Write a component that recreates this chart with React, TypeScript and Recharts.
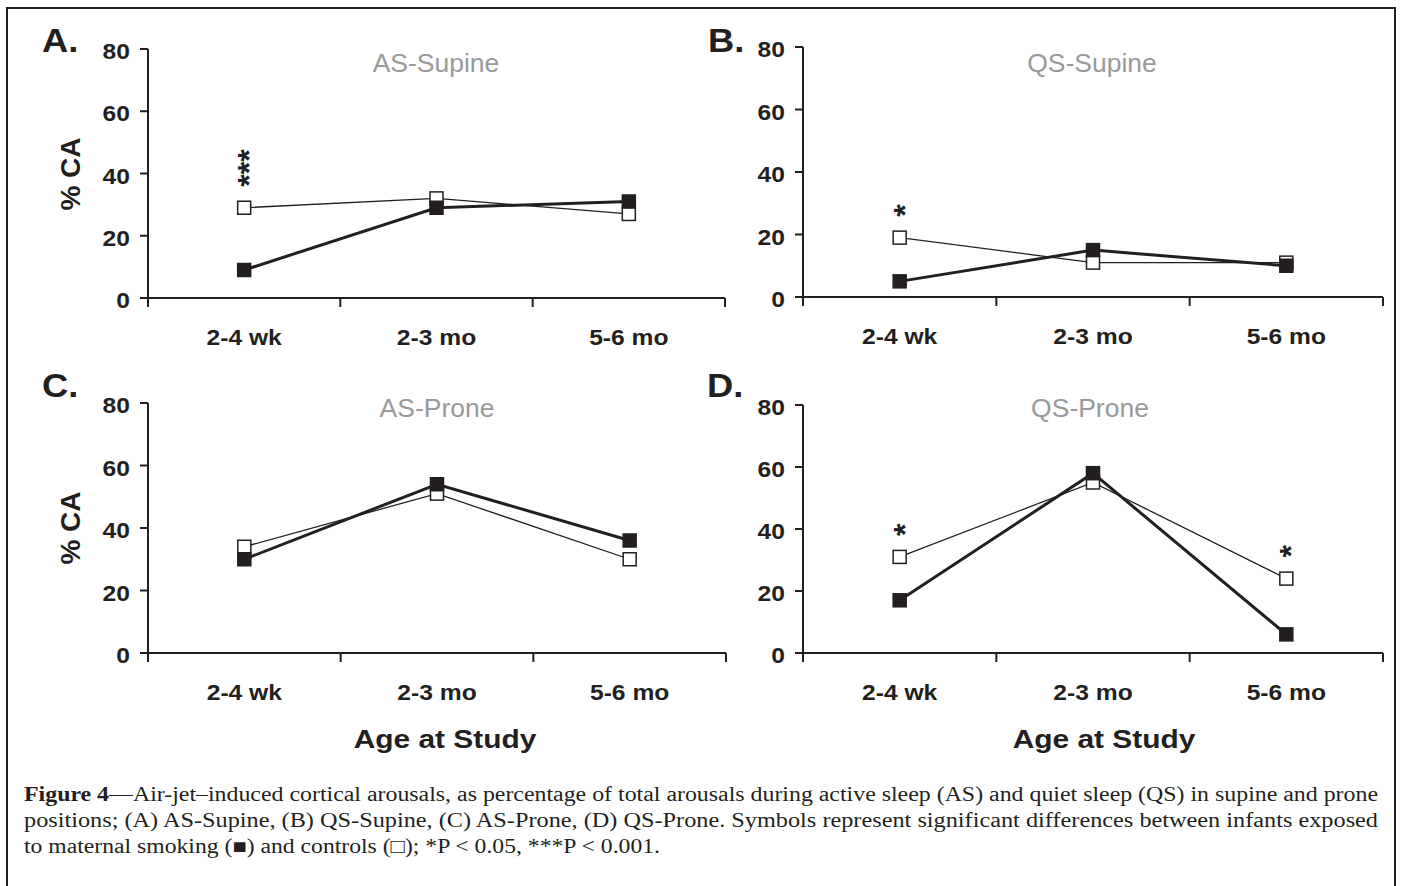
import React from 'react';
import { LineChart, Line, XAxis, YAxis, LabelList } from 'recharts';

const INK = '#231f20';
const SANS = '"Liberation Sans", Arial, sans-serif';
const SERIF = '"Liberation Serif", "Times New Roman", serif';

const AGES = ['2-4 wk', '2-3 mo', '5-6 mo'];
const Y_TICKS = [0, 20, 40, 60, 80];
// integer ticks are the band edges, half ticks carry the age labels
const X_TICKS = [0, 0.5, 1, 1.5, 2, 2.5, 3];

// % CA, controls (open squares) and infants exposed to maternal smoking (filled)
const AS_SUPINE_CTRL = [29, 32, 27];
const AS_SUPINE_SMOKE = [9, 29, 31];
const AS_SUPINE_SIG = ['***', '', ''];

const QS_SUPINE_CTRL = [19, 11, 11];
const QS_SUPINE_SMOKE = [5, 15, 10];
const QS_SUPINE_SIG = ['*', '', ''];

const AS_PRONE_CTRL = [34, 51, 30];
const AS_PRONE_SMOKE = [30, 54, 36];
const AS_PRONE_SIG = ['', '', ''];

const QS_PRONE_CTRL = [31, 55, 24];
const QS_PRONE_SMOKE = [17, 58, 6];
const QS_PRONE_SIG = ['*', '', '*'];

const rowsOf = (ctrl: number[], smoke: number[], sig: string[]) =>
  AGES.map((age, i) => ({ x: i + 0.5, age, ctrl: ctrl[i], smoke: smoke[i], sig: sig[i] }));

const XTick = (p: any) => {
  const v = p.payload.value;
  if (Number.isInteger(v)) {
    return <line x1={p.x} x2={p.x} y1={p.y} y2={p.y + 9} stroke={INK} strokeWidth={2} />;
  }
  return (
    <text transform={`translate(${p.x} ${p.y + 47}) scale(1.12 1)`} textAnchor="middle"
      fontFamily={SANS} fontWeight="bold" fontSize={22} fill={INK}>
      {AGES[Math.floor(v)]}
    </text>
  );
};

const YTick = (p: any) => (
  <text transform={`translate(${p.x} ${p.y + 10}) scale(1.12 1)`} textAnchor="end"
    fontFamily={SANS} fontWeight="bold" fontSize={22} fill={INK}>
    {p.payload.value}
  </text>
);

const square = (fill: string) => (p: any) => (
  <rect key={`sq${p.index}`} x={p.cx - 6.5} y={p.cy - 6.5} width={13} height={13}
    fill={fill} stroke={INK} strokeWidth={1.5} />
);

// significance stars, stacked upward above the control point
const Stars = (p: any) => {
  const s = String(p.value ?? '');
  if (!s) return null;
  const x = (p.x ?? p.viewBox?.x) + 16;
  const y = (p.y ?? p.viewBox?.y) - 21;
  return (
    <text transform={`translate(${x} ${y}) rotate(-90)`} textAnchor="start"
      fontFamily={SANS} fontWeight="bold" fontSize={32} fill={INK}>{s}</text>
  );
};

function Panel({ left, top, w, h, rows }: { left: number; top: number; w: number; h: number; rows: any[] }) {
  const padTop = 40;
  const axisW = 148;
  return (
    <div style={{ position: 'absolute', left: left - axisW, top: top - padTop }}>
      <LineChart width={axisW + w + 15} height={padTop + h + 60} data={rows}
        margin={{ top: padTop, right: 15, bottom: 0, left: 0 }}>
        <XAxis dataKey="x" type="number" domain={[0, 3]} ticks={X_TICKS} interval={0} height={60}
          tickSize={0} tickMargin={0} tickLine={false}
          axisLine={{ stroke: INK, strokeWidth: 2 }} tick={XTick} />
        <YAxis type="number" domain={[0, 80]} ticks={Y_TICKS} interval={0} width={axisW}
          tickSize={8} tickMargin={10} tickLine={{ stroke: INK, strokeWidth: 2 }}
          axisLine={{ stroke: INK, strokeWidth: 2 }} tick={YTick} />
        <Line type="linear" dataKey="ctrl" stroke={INK} strokeWidth={1.3} dot={square('#fff')}
          activeDot={false} isAnimationActive={false}>
          <LabelList dataKey="sig" content={Stars} />
        </Line>
        <Line type="linear" dataKey="smoke" stroke={INK} strokeWidth={3} dot={square(INK)}
          activeDot={false} isAnimationActive={false} />
      </LineChart>
    </div>
  );
}

function SText({ x, y, s = 1, anchor = 'start', size, weight = 'normal', fill = INK, rotate = 0, children }: any) {
  return (
    <text transform={`translate(${x} ${y}) rotate(${rotate}) scale(${s} 1)`} textAnchor={anchor}
      fontSize={size} fontWeight={weight} fill={fill} fontFamily={SANS}>{children}</text>
  );
}

export default function App() {
  return (
    <div style={{ position: 'absolute', left: 0, top: 0, width: 1401, height: 886, overflow: 'hidden', background: '#fff' }}>
      <div style={{ position: 'absolute', left: 6, top: 7, width: 1390, height: 900, boxSizing: 'border-box', border: `2.5px solid ${INK}` }} />

      <Panel left={148} top={49} w={577} h={249} rows={rowsOf(AS_SUPINE_CTRL, AS_SUPINE_SMOKE, AS_SUPINE_SIG)} />
      <Panel left={803} top={47} w={580} h={250} rows={rowsOf(QS_SUPINE_CTRL, QS_SUPINE_SMOKE, QS_SUPINE_SIG)} />
      <Panel left={148} top={403} w={578} h={250} rows={rowsOf(AS_PRONE_CTRL, AS_PRONE_SMOKE, AS_PRONE_SIG)} />
      <Panel left={803} top={405} w={580} h={248} rows={rowsOf(QS_PRONE_CTRL, QS_PRONE_SMOKE, QS_PRONE_SIG)} />

      <svg width={1401} height={886} style={{ position: 'absolute', left: 0, top: 0, pointerEvents: 'none' }}>
        <SText x={42} y={52} s={1.1} size={33} weight="bold">A.</SText>
        <SText x={708} y={52} s={1.1} size={33} weight="bold">B.</SText>
        <SText x={42} y={397} s={1.1} size={33} weight="bold">C.</SText>
        <SText x={707} y={397} s={1.1} size={33} weight="bold">D.</SText>

        <SText x={436} y={72} s={1.06} anchor="middle" size={25} fill="#999">AS-Supine</SText>
        <SText x={1092} y={72} s={1.06} anchor="middle" size={25} fill="#999">QS-Supine</SText>
        <SText x={437} y={417} s={1.06} anchor="middle" size={25} fill="#999">AS-Prone</SText>
        <SText x={1090} y={417} s={1.06} anchor="middle" size={25} fill="#999">QS-Prone</SText>

        <SText x={80} y={174} rotate={-90} anchor="middle" size={28} weight="bold">% CA</SText>
        <SText x={80} y={528} rotate={-90} anchor="middle" size={28} weight="bold">% CA</SText>

        <SText x={445} y={748} s={1.15} anchor="middle" size={26} weight="bold">Age at Study</SText>
        <SText x={1104} y={748} s={1.15} anchor="middle" size={26} weight="bold">Age at Study</SText>

        <g fontFamily={SERIF} fontSize={20} fill={INK}>
          <text x={24} y={801} textLength={1354} lengthAdjust="spacingAndGlyphs">
            <tspan fontWeight="bold">Figure 4</tspan>—Air-jet–induced cortical arousals, as percentage of total arousals during active sleep (AS) and quiet sleep (QS) in supine and prone
          </text>
          <text x={24} y={827} textLength={1354} lengthAdjust="spacingAndGlyphs">
            positions; (A) AS-Supine, (B) QS-Supine, (C) AS-Prone, (D) QS-Prone. Symbols represent significant differences between infants exposed
          </text>
          <text x={24} y={853} textLength={636} lengthAdjust="spacingAndGlyphs">
            to maternal smoking (■) and controls (□); *P &lt; 0.05, ***P &lt; 0.001.
          </text>
        </g>
      </svg>
    </div>
  );
}
